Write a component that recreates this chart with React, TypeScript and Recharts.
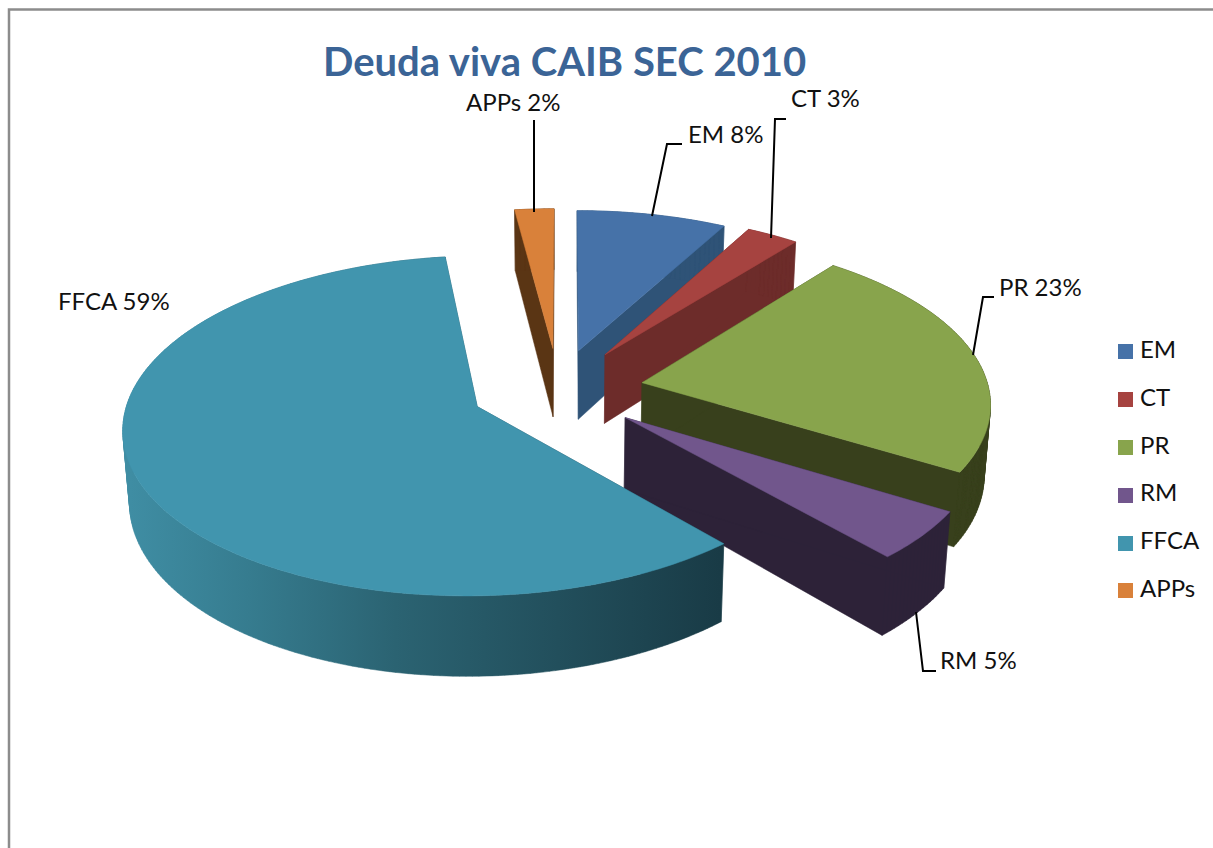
import { Cell, Legend, Pie, PieChart } from "recharts";

const categories = ["EM", "CT", "PR", "RM", "FFCA", "APPs"];
// sizes; the labels show them rounded
const shares = [7.9, 2.77, 23.03, 4.74, 59.49, 2.07];

const topColors = ["#4672a8", "#a64340", "#88a44c", "#71568c", "#4195ae", "#d9813a"];
const wallColors = ["#2f5377", "#6d2c2a", "#38401c", "#2d2238", "url(#ffcaWall)", "#5a3514"];
// how far each slice is pulled out of the centre, as fractions of the radius
const pullSide = [0.04, 0.118, 0.223, 0.17, -0.25, -0.036];
const pullFront = [-0.245, -0.22, -0.045, 0.165, 0.1, -0.26];

const chartData = categories.map((name, i) => ({ name, value: shares[i] }));

// label text anchor + leader line, one row per slice
const labelSpots = [
  { x: 688, y: 143, line: "M652 216L667 144L682 144" },
  { x: 791, y: 107, line: "M771 238L775 119L786 119" },
  { x: 999, y: 296, line: "M973 355L983 297L994 297" },
  { x: 940, y: 669, line: "M916 612L923 671L936 671" },
  { x: 58, y: 310, line: "" },
  { x: 466, y: 111, line: "M534 120L534 212" },
];

const FONT = "Lato, 'Open Sans', sans-serif";
const TILT = 0.473; // vertical squash of the pie plane
const PERSP = 0.112;
const DEPTH = 71.5;
const SINK = 0.015;

// one subpath per quad, all wound the same way so nonzero fill gives the union
function quadPath(q: number[][]) {
  let area = 0;
  q.forEach((p, i) => {
    const n = q[(i + 1) % q.length];
    area += p[0] * n[1] - n[0] * p[1];
  });
  const pts = area < 0 ? [...q].reverse() : q;
  return "M" + pts.map((p) => p.join(" ")).join("L") + "Z";
}

function Slice3D(props: any) {
  const { cx, cy, outerRadius, startAngle, endAngle, index } = props;
  const a0 = ((90 - startAngle) * Math.PI) / 180;
  const a1 = ((90 - endAngle) * Math.PI) / 180;
  const ou = pullSide[index];
  const ov = pullFront[index];

  const project = (u: number, v: number, bottom: boolean) => {
    const w = 1 - PERSP * v + (bottom ? SINK : 0);
    return [
      cx + (outerRadius * u) / w,
      cy + (outerRadius * TILT * v + (bottom ? DEPTH + 3 * v : 0)) / w,
    ];
  };
  const steps = Math.max(4, Math.ceil(Math.abs(a1 - a0) * 60));
  const rim: [number, number][] = [];
  for (let i = 0; i <= steps; i++) {
    const t = a0 + ((a1 - a0) * i) / steps;
    rim.push([ou + Math.sin(t), ov - Math.cos(t)]);
  }
  const topRim = rim.map(([u, v]) => project(u, v, false));
  const lowRim = rim.map(([u, v]) => project(u, v, true));
  const apexTop = project(ou, ov, false);
  const apexLow = project(ou, ov, true);
  const wall = wallColors[index];
  const top = topColors[index];

  const walls = [
    quadPath([apexTop, topRim[0], lowRim[0], apexLow]),
    quadPath([apexTop, topRim[steps], lowRim[steps], apexLow]),
    ...rim.slice(1).map((_, i) => quadPath([topRim[i], topRim[i + 1], lowRim[i + 1], lowRim[i]])),
  ].join("");

  return (
    <g>
      <path d={walls} fill={wall} fillRule="nonzero" stroke={wall} strokeWidth={0.5} />
      <polygon
        points={[apexTop, ...topRim].map((p) => p.join(",")).join(" ")}
        fill={top}
        stroke={top}
        strokeWidth={0.5}
      />
    </g>
  );
}

function SliceLabel(props: any) {
  const { index, name, value } = props;
  const spot = labelSpots[index];
  return (
    <g>
      {spot.line && <path d={spot.line} fill="none" stroke="#000" strokeWidth={2} />}
      <text x={spot.x} y={spot.y} fill="#111" fontSize={24} fontFamily={FONT}>
        {`${name} ${Math.round(value)}%`}
      </text>
    </g>
  );
}

export default function App() {
  return (
    <div style={{ position: "absolute", left: 0, top: 0, width: 1213, height: 848, background: "#fff" }}>
      <PieChart width={1213} height={848} margin={{ top: 0, right: 0, bottom: 0, left: 0 }}>
        <defs>
          <linearGradient id="ffcaWall" gradientUnits="userSpaceOnUse" x1={130} y1={0} x2={720} y2={0}>
            <stop offset="0" stopColor="#3f8da3" />
            <stop offset="0.2" stopColor="#367c8f" />
            <stop offset="0.45" stopColor="#2b6372" />
            <stop offset="1" stopColor="#193b46" />
          </linearGradient>
        </defs>
        <path d="M1213 9.5L9 9.5L9 848" fill="none" stroke="#8c8c8c" strokeWidth={2.5} />
        <text x={323} y={76} fill="#3b6496" fontSize={40} fontWeight={700} fontFamily={FONT}>
          Deuda viva CAIB SEC 2010
        </text>
        <Pie
          data={chartData}
          dataKey="value"
          nameKey="name"
          cx={565}
          cy={390}
          outerRadius={347}
          startAngle={90}
          endAngle={-270}
          stroke="none"
          shape={Slice3D}
          inactiveShape={Slice3D}
          label={SliceLabel}
          labelLine={false}
          isAnimationActive={false}
        >
          {chartData.map((d, i) => (
            <Cell key={d.name} fill={topColors[i]} />
          ))}
        </Pie>
        <Legend
          layout="vertical"
          align="right"
          verticalAlign="top"
          iconType="square"
          iconSize={15}
          itemSorter={null}
          wrapperStyle={{
            position: "absolute",
            left: 1118,
            right: "auto",
            top: 325,
            width: 95,
            fontFamily: FONT,
            fontSize: 24,
            lineHeight: "47.8px",
          }}
          formatter={(v: string) => <span style={{ color: "#111", marginLeft: 3 }}>{v}</span>}
        />
      </PieChart>
    </div>
  );
}
